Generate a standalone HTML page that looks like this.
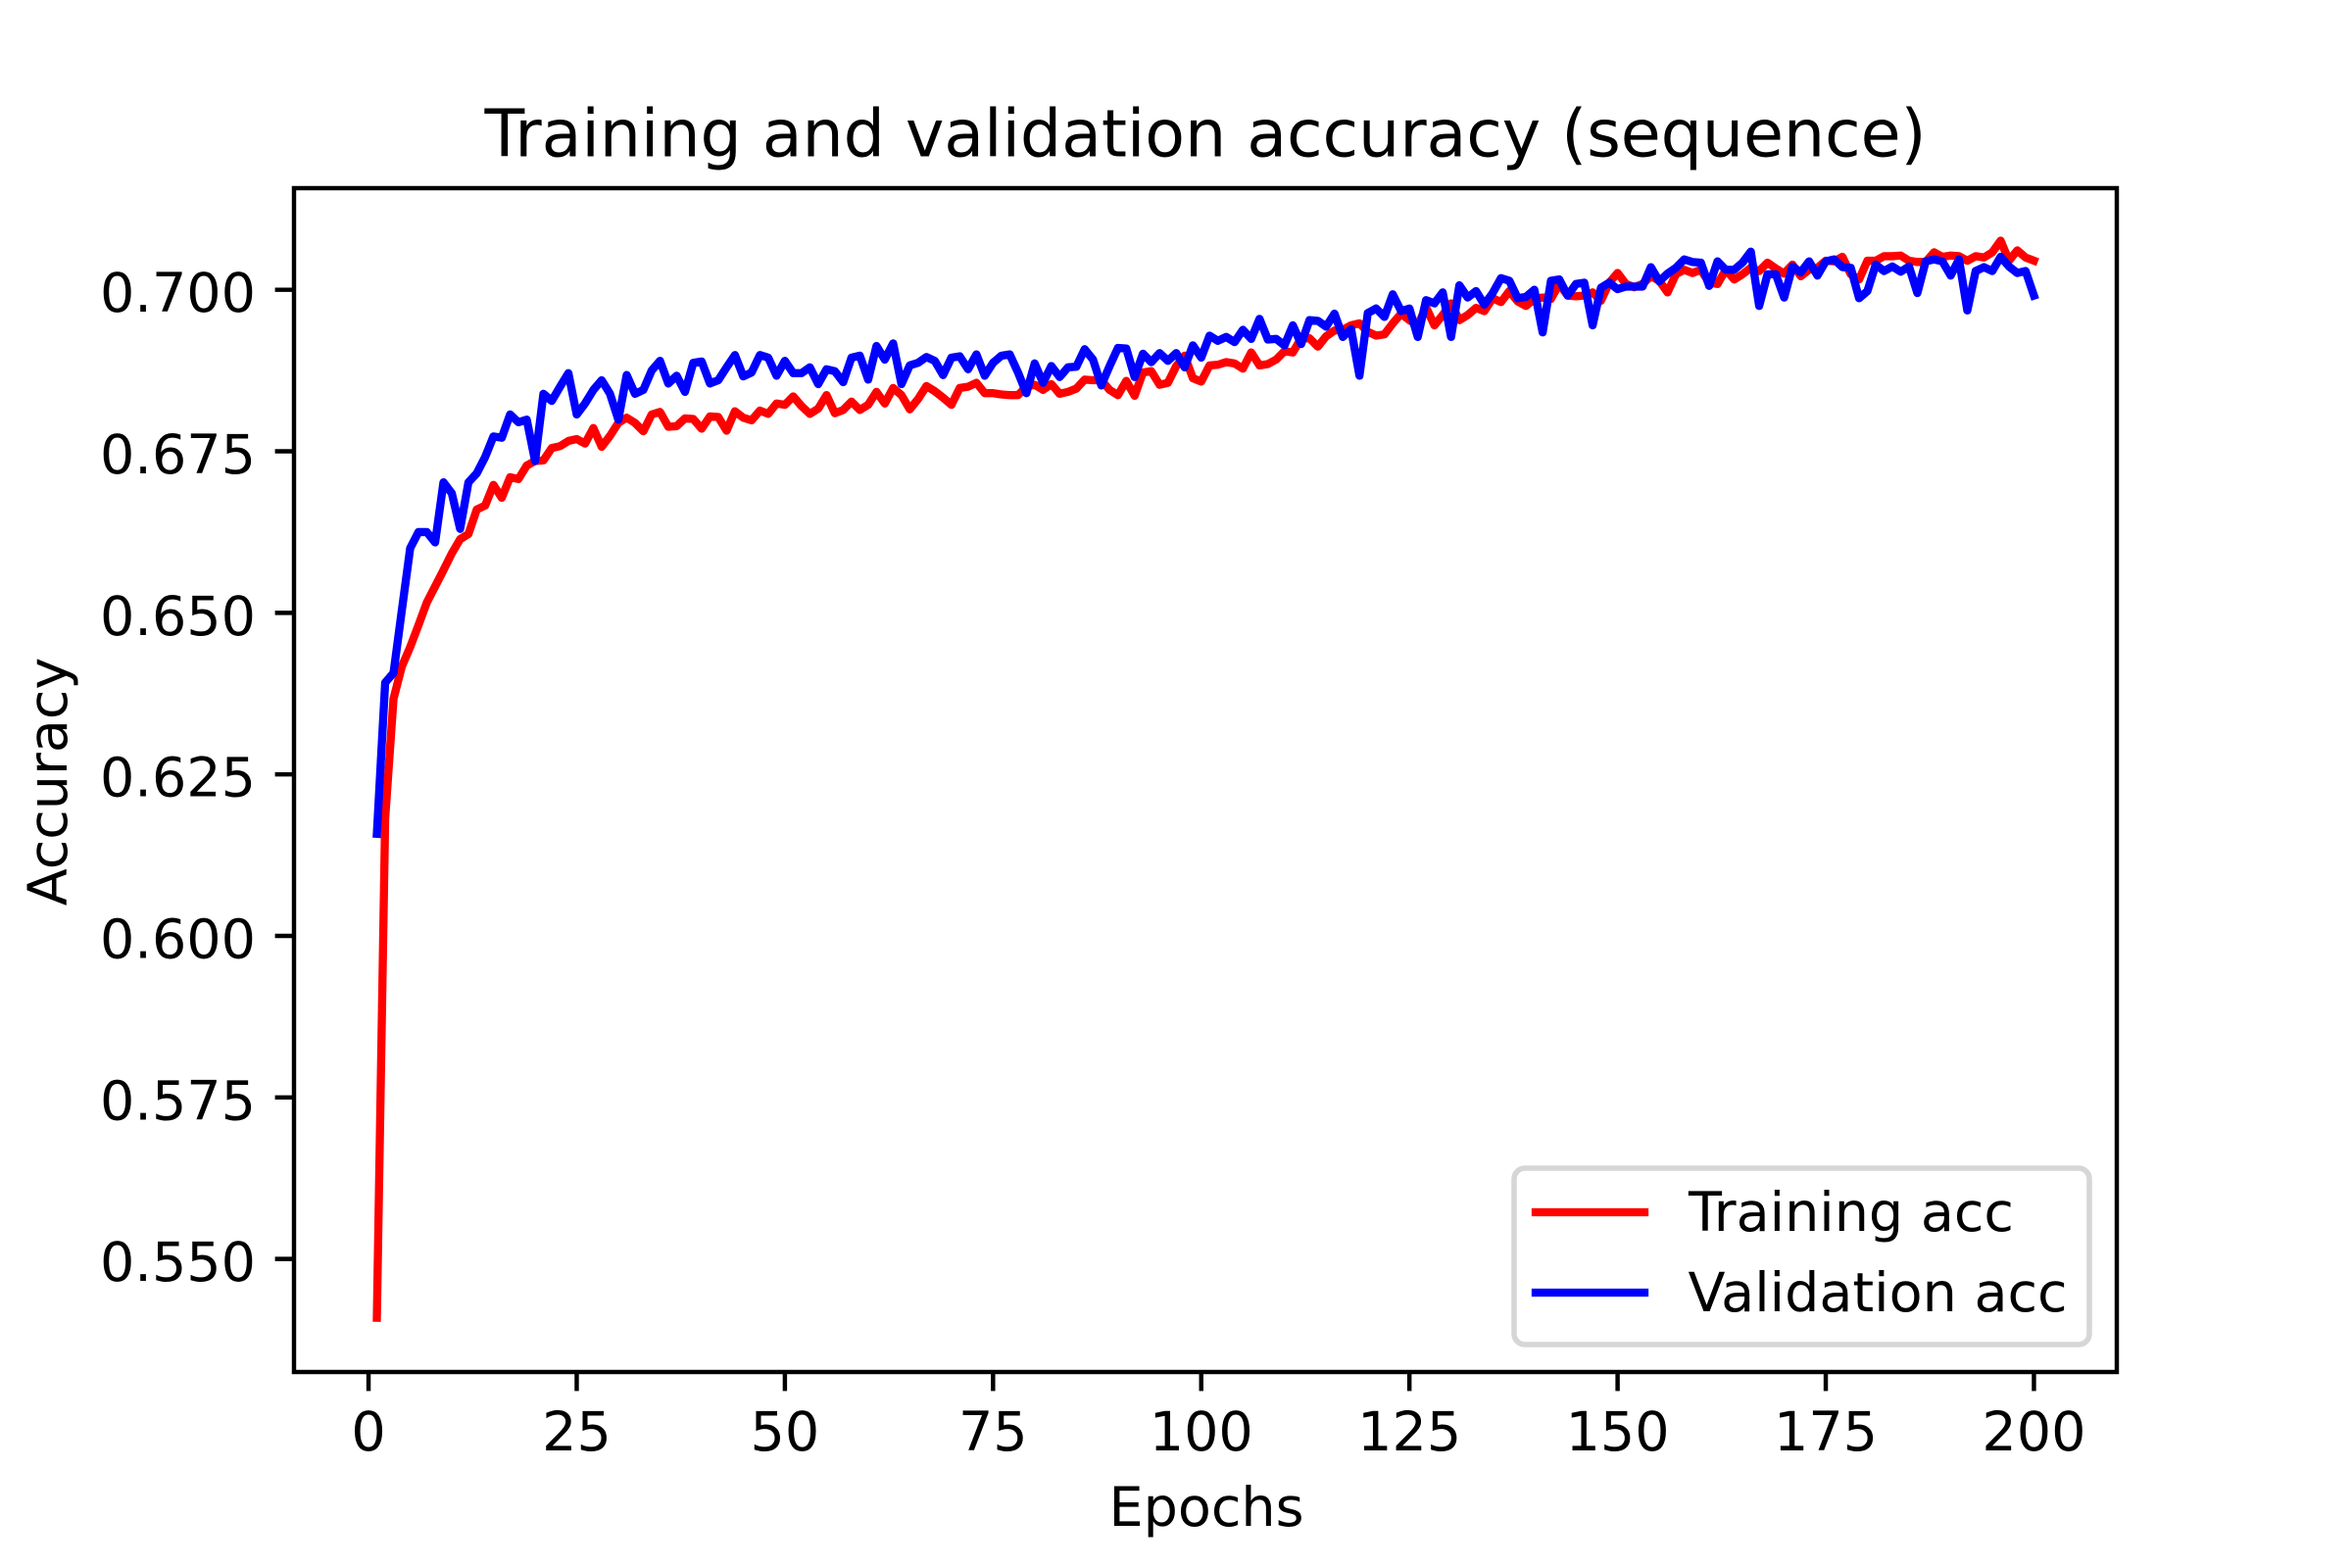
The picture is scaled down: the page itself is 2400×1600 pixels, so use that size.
<!DOCTYPE html>
<html lang="en">
<head>
<meta charset="utf-8">
<title>Training and validation accuracy (sequence)</title>
<style>
html,body{margin:0;padding:0;background:#fff;}
svg{display:block;}
text{font-family:"DejaVu Sans","Liberation Sans",sans-serif;fill:#000;}
</style>
</head>
<body>
<svg id="chart" xmlns="http://www.w3.org/2000/svg" width="2400" height="1600" viewBox="0 0 2400 1600">
  <rect x="0" y="0" width="2400" height="1600" fill="#fff"/>
  <text x="1230" y="159.5" font-size="66.67" text-anchor="middle" textLength="1471">Training and validation accuracy (sequence)</text>
  <g id="ticks"></g>
  <g id="series"></g>
  <rect x="300" y="192" width="1860" height="1208" fill="none" stroke="#000" stroke-width="4.44"/>
  <text x="1231" y="1557" font-size="55.56" text-anchor="middle">Epochs</text>
  <text x="0" y="0" font-size="55.56" text-anchor="middle" transform="translate(68,797.5) rotate(-90)">Accuracy</text>
  <g>
    <rect x="1545" y="1192" width="587" height="180" rx="11" ry="11" fill="#fff" fill-opacity="0.8" stroke="#d6d6d6" stroke-width="5.56"/>
    <line x1="1567" y1="1237" x2="1678" y2="1237" stroke="#ff0000" stroke-width="8.33" stroke-linecap="square"/>
    <text x="1723" y="1256" font-size="55.56">Training acc</text>
    <line x1="1567" y1="1319" x2="1678" y2="1319" stroke="#0000ff" stroke-width="8.33" stroke-linecap="square"/>
    <text x="1722.5" y="1338" font-size="55.56">Validation acc</text>
  </g>
</svg>
<script>
const xTickValues = [0, 25, 50, 75, 100, 125, 150, 175, 200];
const xTickLabels = ["0", "25", "50", "75", "100", "125", "150", "175", "200"];
const yTickValues = [0.55, 0.575, 0.6, 0.625, 0.65, 0.675, 0.7];
const yTickLabels = ["0.550", "0.575", "0.600", "0.625", "0.650", "0.675", "0.700"];
const trainingAcc = [
  0.5409,0.6182,0.6367,0.6417,0.6447,0.6481,0.6516,0.6541,0.6566,0.6592,
  0.6614,0.6622,0.6660,0.6666,0.6698,0.6678,0.6710,0.6707,0.6728,0.6735,
  0.6736,0.6755,0.6758,0.6766,0.6769,0.6762,0.6786,0.6757,0.6774,0.6794,
  0.6802,0.6794,0.6781,0.6807,0.6811,0.6788,0.6789,0.6801,0.6800,0.6785,
  0.6804,0.6803,0.6782,0.6812,0.6802,0.6798,0.6813,0.6808,0.6824,0.6822,
  0.6835,0.6820,0.6808,0.6816,0.6837,0.6809,0.6814,0.6827,0.6814,0.6822,
  0.6842,0.6824,0.6848,0.6837,0.6815,0.6831,0.6851,0.6843,0.6833,0.6822,
  0.6848,0.6850,0.6856,0.6840,0.6840,0.6838,0.6837,0.6837,0.6850,0.6853,
  0.6845,0.6854,0.6839,0.6842,0.6847,0.6861,0.6860,0.6860,0.6845,0.6837,
  0.6859,0.6836,0.6872,0.6874,0.6853,0.6856,0.6882,0.6898,0.6863,0.6858,
  0.6883,0.6884,0.6888,0.6886,0.6878,0.6903,0.6883,0.6885,0.6892,0.6905,
  0.6903,0.6925,0.6925,0.6912,0.6928,0.6937,0.6938,0.6945,0.6948,0.6935,
  0.6929,0.6931,0.6948,0.6963,0.6953,0.6945,0.6973,0.6945,0.6961,0.6979,
  0.6953,0.6961,0.6972,0.6967,0.6987,0.6981,0.6998,0.6982,0.6975,0.6986,
  0.6988,0.6986,0.7009,0.6991,0.6990,0.6991,0.6996,0.6983,0.7011,0.7026,
  0.7009,0.7004,0.7009,0.7021,0.7014,0.6996,0.7024,0.7031,0.7026,0.7031,
  0.7011,0.7009,0.7031,0.7016,0.7024,0.7034,0.7029,0.7042,0.7033,0.7025,
  0.7039,0.7021,0.7031,0.7034,0.7045,0.7044,0.7051,0.7024,0.7016,0.7045,
  0.7045,0.7052,0.7052,0.7053,0.7045,0.7043,0.7043,0.7058,0.7051,0.7053,
  0.7052,0.7045,0.7052,0.7050,0.7058,0.7076,0.7045,0.7061,0.7050,0.7045
];
const validationAcc = [
  0.6158,0.6392,0.6407,0.6504,0.6600,0.6625,0.6625,0.6609,0.6702,0.6685,
  0.6630,0.6702,0.6716,0.6741,0.6773,0.6771,0.6807,0.6795,0.6799,0.6735,
  0.6839,0.6828,0.6850,0.6871,0.6807,0.6824,0.6845,0.6860,0.6839,0.6799,
  0.6868,0.6839,0.6845,0.6875,0.6890,0.6855,0.6867,0.6842,0.6887,0.6889,
  0.6855,0.6860,0.6880,0.6899,0.6866,0.6872,0.6899,0.6895,0.6867,0.6890,
  0.6871,0.6871,0.6880,0.6854,0.6877,0.6874,0.6857,0.6895,0.6898,0.6861,
  0.6913,0.6892,0.6917,0.6854,0.6883,0.6887,0.6896,0.6890,0.6868,0.6895,
  0.6897,0.6877,0.6900,0.6867,0.6887,0.6898,0.6900,0.6872,0.6840,0.6886,
  0.6856,0.6882,0.6865,0.6880,0.6881,0.6908,0.6892,0.6852,0.6882,0.6910,
  0.6909,0.6865,0.6901,0.6888,0.6902,0.6890,0.6902,0.6880,0.6914,0.6895,
  0.6929,0.6921,0.6927,0.6919,0.6938,0.6924,0.6955,0.6923,0.6924,0.6914,
  0.6945,0.6916,0.6953,0.6952,0.6943,0.6963,0.6927,0.6939,0.6867,0.6964,
  0.6971,0.6958,0.6993,0.6967,0.6971,0.6927,0.6984,0.6979,0.6996,0.6927,
  0.7007,0.6988,0.6998,0.6977,0.6995,0.7018,0.7014,0.6987,0.6989,0.7000,
  0.6934,0.7014,0.7016,0.6991,0.7009,0.7011,0.6945,0.7003,0.7011,0.7001,
  0.7005,0.7005,0.7005,0.7035,0.7013,0.7025,0.7034,0.7047,0.7043,0.7042,
  0.7006,0.7044,0.7031,0.7031,0.7042,0.7059,0.6975,0.7024,0.7024,0.6988,
  0.7036,0.7027,0.7044,0.7022,0.7044,0.7047,0.7035,0.7034,0.6987,0.6998,
  0.7039,0.7029,0.7036,0.7028,0.7036,0.6995,0.7044,0.7047,0.7044,0.7022,
  0.7047,0.6968,0.7029,0.7035,0.7029,0.7051,0.7036,0.7026,0.7029,0.6991
];

const SVG_NS = "http://www.w3.org/2000/svg";
function xScale(epoch) { return 376.05 + epoch * 8.497; }
function yScale(acc) { return 295.7 + (0.7 - acc) * 6593; }
function linePath(values) {
  return values.map(function (v, i) {
    return (i ? "L" : "M") + xScale(i + 1).toFixed(2) + " " + yScale(v).toFixed(2);
  }).join(" ");
}

const tickGroup = document.getElementById("ticks");
xTickValues.forEach(function (v, i) {
  const tick = document.createElementNS(SVG_NS, "line");
  
  
  tick.setAttribute("x1", xScale(v));
  tick.setAttribute("x2", xScale(v));
  tick.setAttribute("y1", 1400);
  tick.setAttribute("y2", 1419.4);
  tick.setAttribute("stroke", "#000");
  tick.setAttribute("stroke-width", 4.44);
  tickGroup.appendChild(tick);
  const label = document.createElementNS(SVG_NS, "text");
  
  
  label.setAttribute("x", xScale(v));
  label.setAttribute("y", 1480);
  label.setAttribute("font-size", 55.56);
  label.setAttribute("text-anchor", "middle");
  label.textContent = xTickLabels[i];
  tickGroup.appendChild(label);
});
yTickValues.forEach(function (v, i) {
  const tick = document.createElementNS(SVG_NS, "line");
  
  
  tick.setAttribute("x1", 280.6);
  tick.setAttribute("x2", 300);
  tick.setAttribute("y1", yScale(v));
  tick.setAttribute("y2", yScale(v));
  tick.setAttribute("stroke", "#000");
  tick.setAttribute("stroke-width", 4.44);
  tickGroup.appendChild(tick);
  const label = document.createElementNS(SVG_NS, "text");
  
  
  label.setAttribute("x", 261);
  label.setAttribute("y", yScale(v) + 22.5);
  label.setAttribute("font-size", 55.56);
  label.setAttribute("text-anchor", "end");
  label.textContent = yTickLabels[i];
  tickGroup.appendChild(label);
});

const seriesGroup = document.getElementById("series");
const trainingLine = document.createElementNS(SVG_NS, "path");


trainingLine.setAttribute("d", linePath(trainingAcc));
trainingLine.setAttribute("fill", "none");
trainingLine.setAttribute("stroke", "#ff0000");
trainingLine.setAttribute("stroke-width", 8.33);
trainingLine.setAttribute("stroke-linejoin", "round");
trainingLine.setAttribute("stroke-linecap", "square");
seriesGroup.appendChild(trainingLine);
const validationLine = document.createElementNS(SVG_NS, "path");


validationLine.setAttribute("d", linePath(validationAcc));
validationLine.setAttribute("fill", "none");
validationLine.setAttribute("stroke", "#0000ff");
validationLine.setAttribute("stroke-width", 8.33);
validationLine.setAttribute("stroke-linejoin", "round");
validationLine.setAttribute("stroke-linecap", "square");
seriesGroup.appendChild(validationLine);
</script>
</body>
</html>
